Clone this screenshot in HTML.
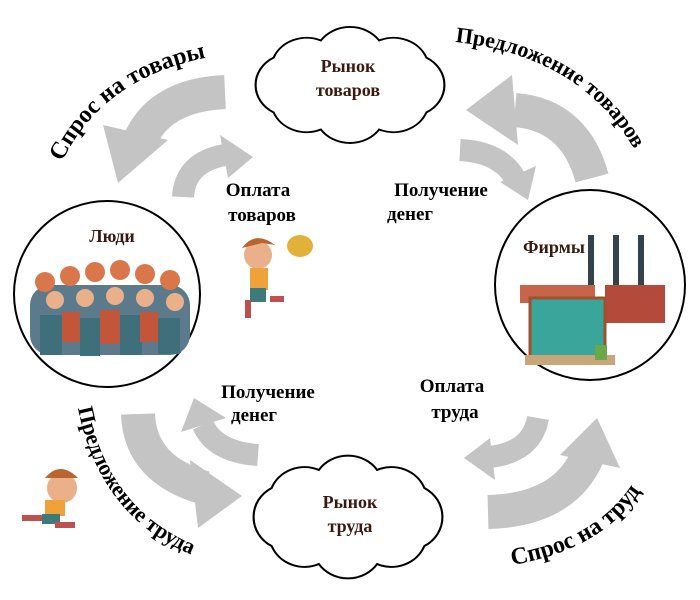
<!DOCTYPE html>
<html><head><meta charset="utf-8"><style>
html,body{margin:0;padding:0;background:#fff;}
svg{display:block;}
text{font-family:"Liberation Serif","DejaVu Serif",serif;font-weight:700;}
</style></head><body>
<svg width="700" height="600" viewBox="0 0 700 600" xmlns="http://www.w3.org/2000/svg">
<defs>
<path id="cl" d="M430,85 A30,30 0 0 1 414.7,111.4 A30,30 0 0 1 374.7,127.8 A30,30 0 0 1 325.3,127.8 A30,30 0 0 1 285.3,111.4 A30,30 0 0 1 270,85 A30,30 0 0 1 285.3,58.6 A30,30 0 0 1 325.3,42.2 A30,30 0 0 1 374.7,42.2 A30,30 0 0 1 414.7,58.6 A30,30 0 0 1 430,85 Z" fill="#fff" stroke="#000" stroke-width="1.8"/>
<path id="p1" d="M62,162 Q110,62 250,52"/>
<path id="p2" d="M455,42 Q620,60 660,215"/>
<path id="p3" d="M78,408 Q105,545 245,570"/>
<path id="p4" d="M512,565 Q630,545 660,450"/>
</defs>
<g fill="none" stroke="#c4c4c4" stroke-linecap="butt">
<path d="M225,92 Q160,95 140,140" stroke-width="34"/>
<path d="M592,178 Q575,115 515,110" stroke-width="34"/>
<path d="M138,414 Q140,470 205,488" stroke-width="34"/>
<path d="M488,512 Q565,510 588,455" stroke-width="34"/>
<path d="M183,197 Q185,162 225,155" stroke-width="22"/>
<path d="M460,150 Q500,152 515,178" stroke-width="22"/>
<path d="M258,455 Q215,452 203,425" stroke-width="22"/>
<path d="M538,418 Q532,452 490,457" stroke-width="22"/>
</g>
<g fill="#c4c4c4">
<polygon points="118,183 103,125 168,140"/>
<polygon points="466,110 512,75 518,145"/>
<polygon points="242,496 190,460 198,528"/>
<polygon points="597,418 560,455 620,468"/>
<polygon points="253,157 220,135 228,178"/>
<polygon points="528,200 500,182 536,166"/>
<polygon points="194,398 181,432 226,418"/>
<polygon points="464,458 490,438 495,480"/>
</g>
<use href="#cl" transform="translate(350,85) scale(1.18,1.04) translate(-350,-85)"/>
<use href="#cl" transform="translate(348,517) scale(1.18,1.1) translate(-350,-85)"/>
<text x="348" y="72" font-size="18" fill="#3a1a10" text-anchor="middle">Рынок</text>
<text x="348" y="96" font-size="18" fill="#3a1a10" text-anchor="middle">товаров</text>
<text x="350" y="508" font-size="18" fill="#3a1a10" text-anchor="middle">Рынок</text>
<text x="350" y="532" font-size="18" fill="#3a1a10" text-anchor="middle">труда</text>
<circle cx="107" cy="294" r="93" fill="#fff" stroke="#000" stroke-width="2"/>
<circle cx="590" cy="285" r="95" fill="#fff" stroke="#000" stroke-width="2"/>
<text x="112" y="242" font-size="18" fill="#3a1a10" text-anchor="middle">Люди</text>
<text x="554" y="253" font-size="18" fill="#3a1a10" text-anchor="middle">Фирмы</text>
<g>
<rect x="30" y="285" width="160" height="70" rx="20" fill="#5b7a8c"/>
<g fill="#d9774a"><circle cx="45" cy="282" r="10"/><circle cx="70" cy="276" r="10"/><circle cx="95" cy="272" r="10"/><circle cx="120" cy="270" r="10"/><circle cx="145" cy="274" r="10"/><circle cx="170" cy="280" r="10"/></g>
<g fill="#e9b08a"><circle cx="55" cy="300" r="9"/><circle cx="85" cy="298" r="9"/><circle cx="115" cy="296" r="9"/><circle cx="145" cy="298" r="9"/><circle cx="175" cy="302" r="9"/></g>
<g fill="#3f6f7a"><rect x="40" y="315" width="22" height="40"/><rect x="80" y="318" width="20" height="38"/><rect x="120" y="315" width="22" height="40"/><rect x="158" y="318" width="22" height="36"/></g>
<g fill="#c2553a"><rect x="62" y="312" width="18" height="30"/><rect x="100" y="310" width="20" height="34"/><rect x="140" y="312" width="18" height="30"/></g>
</g>
<g>
<rect x="588" y="235" width="6" height="60" fill="#34424e"/>
<rect x="613" y="235" width="6" height="60" fill="#34424e"/>
<rect x="638" y="235" width="6" height="60" fill="#34424e"/>
<rect x="605" y="285" width="60" height="38" fill="#b44a3a"/>
<rect x="520" y="285" width="75" height="18" fill="#c8644a"/>
<rect x="530" y="298" width="75" height="65" fill="#3aa59a"/>
<rect x="530" y="298" width="75" height="65" fill="none" stroke="#a0502e" stroke-width="3"/>
<rect x="525" y="355" width="90" height="10" fill="#c9a57a"/>
<rect x="595" y="345" width="12" height="15" fill="#6aa84a"/>
</g>
<g>
<circle cx="258" cy="255" r="14" fill="#e9b08a"/>
<path d="M242,248 Q255,230 275,245 L262,243 Z" fill="#b8652f"/>
<rect x="250" y="268" width="18" height="22" fill="#f0a23a"/>
<rect x="250" y="288" width="16" height="14" fill="#3f7a7a"/>
<rect x="245" y="300" width="6" height="18" fill="#c05050"/>
<rect x="270" y="296" width="14" height="6" fill="#c05050"/>
<ellipse cx="300" cy="246" rx="13" ry="11" fill="#e2b13a"/>
</g>
<g>
<circle cx="62" cy="488" r="15" fill="#e9b08a"/>
<path d="M45,478 Q60,460 78,478 Z" fill="#b8652f"/>
<rect x="45" y="500" width="20" height="16" fill="#f0a23a"/>
<rect x="42" y="514" width="18" height="10" fill="#3f7a7a"/>
<rect x="22" y="515" width="20" height="6" fill="#c05050"/>
<rect x="55" y="522" width="20" height="6" fill="#c05050"/>
</g>
<g font-size="19" fill="#000" text-anchor="middle">
<text x="258" y="196">Оплата</text>
<text x="262" y="221">товаров</text>
<text x="441" y="196">Получение</text>
<text x="410" y="220">денег</text>
<text x="268" y="398">Получение</text>
<text x="254" y="421">денег</text>
<text x="452" y="392">Оплата</text>
<text x="455" y="418">труда</text>
</g>
<g font-size="24" fill="#000">
<text><textPath href="#p1">Спрос на товары</textPath></text>
<text font-size="22"><textPath href="#p2">Предложение товаров</textPath></text>
<text font-size="22"><textPath href="#p3">Предложение труда</textPath></text>
<text><textPath href="#p4">Спрос на труд</textPath></text>
</g>
</svg>
</body></html>
